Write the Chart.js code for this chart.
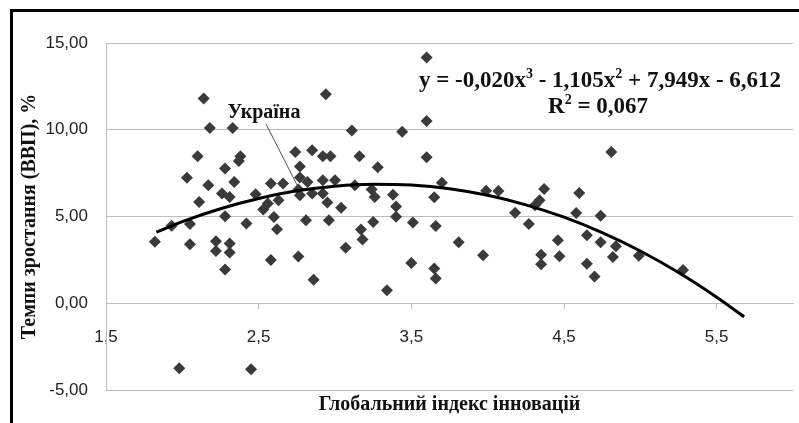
<!DOCTYPE html>
<html>
<head>
<meta charset="utf-8">
<script src="https://cdn.jsdelivr.net/npm/chart.js@4.4.1/dist/chart.umd.min.js"></script>
<style>
  html, body { margin: 0; padding: 0; background: #fff; }
  #wrap { position: relative; width: 799px; height: 423px; overflow: hidden; }
  #chart { position: absolute; left: 0; top: 0; }
  /* thick black frame, cut off at the right and bottom like the scan */
  #frame { position: absolute; left: 10px; top: 9px; width: 820px; height: 440px;
           border-left: 3px solid #000; border-top: 3px solid #000; pointer-events: none; }
</style>
</head>
<body>
<div id="wrap">
  <canvas id="chart" width="799" height="423"></canvas>
  <div id="frame"></div>
</div>
<script>
// Global innovation index (x) vs GDP growth rate, % (y), one point per country
const gii = [
  1.82, 1.93, 1.98, 2.03, 2.05, 2.05, 2.10, 2.11, 2.14, 2.17,
  2.18, 2.22, 2.22, 2.26, 2.28, 2.28, 2.28, 2.31, 2.31, 2.31,
  2.33, 2.34, 2.37, 2.38, 2.42, 2.45, 2.48, 2.53, 2.56, 2.58,
  2.58, 2.60, 2.62, 2.63, 2.66, 2.74, 2.76, 2.76, 2.77, 2.77,
  2.77, 2.81, 2.82, 2.85, 2.85, 2.86, 2.92, 2.92, 2.92, 2.94,
  2.95, 2.96, 2.97, 3.00, 3.04, 3.07, 3.11, 3.13, 3.16, 3.17,
  3.18, 3.24, 3.25, 3.26, 3.28, 3.34, 3.38, 3.40, 3.40, 3.44,
  3.50, 3.51, 3.60, 3.60, 3.60, 3.65, 3.66, 3.65, 3.66, 3.70,
  3.81, 3.97, 3.99, 4.07, 4.18, 4.27, 4.31, 4.34, 4.37, 4.35,
  4.35, 4.46, 4.47, 4.58, 4.60, 4.65, 4.65, 4.70, 4.74, 4.74,
  4.81, 4.84, 4.82, 4.99, 5.28
];
const gdpGrowth = [
  3.55, 4.46, -3.75, 7.24, 4.57, 3.40, 8.47, 5.84, 11.80, 6.80,
  10.10, 3.57, 3.01, 6.32, 7.76, 5.01, 1.94, 6.13, 3.44, 2.92,
  10.10, 6.99, 8.20, 8.47, 4.59, -3.80, 6.28, 5.40, 5.75, 6.90,
  2.50, 4.97, 4.27, 5.94, 6.90, 8.72, 2.69, 6.55, 7.88, 7.25,
  6.22, 4.78, 6.99, 8.82, 6.32, 1.35, 8.47, 7.09, 6.32, 12.05,
  5.81, 4.78, 8.47, 7.09, 5.51, 3.20, 9.95, 6.80, 8.47, 4.25,
  3.67, 6.56, 4.69, 6.13, 7.84, 0.75, 6.25, 5.57, 4.99, 9.89,
  2.32, 4.65, 14.16, 10.50, 8.42, 6.11, 4.45, 2.00, 1.42, 6.95,
  3.52, 2.77, 6.49, 6.47, 5.22, 4.57, 5.65, 5.94, 6.59, 2.80,
  2.25, 3.63, 2.71, 5.20, 6.36, 3.92, 2.27, 1.54, 5.05, 3.52,
  8.72, 3.29, 2.67, 2.74, 1.92
];
const ukraineIndex = 37; // point the "Україна" label points to

// cubic trend line
const trendX = [1.83, 2.00, 2.25, 2.50, 2.75, 3.00, 3.25, 3.50, 3.75, 4.00, 4.25, 4.50, 4.75, 5.00, 5.25, 5.50, 5.68];
const trendY = [4.10, 4.71, 5.45, 6.04, 6.48, 6.75, 6.86, 6.81, 6.60, 6.22, 5.67, 4.96, 4.07, 3.01, 1.77, 0.35, -0.78];

const xTicks = [1.5, 2.5, 3.5, 4.5, 5.5];
const yTicks = [-5, 0, 5, 10, 15];

const xTitle = "Глобальний індекс інновацій";
const yTitle = "Темпи зростання (ВВП), %";
const equation = [["y = -0,020x", false], ["3", true], [" - 1,105x", false], ["2", true], [" + 7,949x - 6,612", false]];
const rSquared = [["R", false], ["2", true], [" = 0,067", false]];
const ukraineLabel = "Україна";

const GRID = "#bdbdbd";
const SERIF = "'Liberation Serif', 'DejaVu Serif', serif";
const SANS = "'Liberation Sans', 'DejaVu Sans', sans-serif";
const comma = (v, d) => v.toFixed(d).replace(".", ",");

// Text with superscripts, centred on (cx, cy).
function drawRich(ctx, parts, cx, cy, size) {
  const main = `bold ${size}px ${SERIF}`;
  const sup = `bold ${Math.round(size * 0.6)}px ${SERIF}`;
  let total = 0;
  parts.forEach(([t, s]) => { ctx.font = s ? sup : main; total += ctx.measureText(t).width; });
  let x = cx - total / 2;
  ctx.textBaseline = "middle";
  ctx.textAlign = "left";
  parts.forEach(([t, s]) => {
    ctx.font = s ? sup : main;
    ctx.fillText(t, x, s ? cy - size * 0.3 : cy);
    x += ctx.measureText(t).width;
  });
}

const annotations = {
  id: "annotations",
  afterDraw(chart) {
    const { ctx, scales } = chart;
    ctx.save();
    ctx.fillStyle = "#111";
    drawRich(ctx, equation, 600, 81, 23);
    drawRich(ctx, rSquared, 598, 107, 23);

    ctx.font = `bold 20px ${SERIF}`;
    ctx.textAlign = "center";
    ctx.textBaseline = "middle";
    ctx.fillText(ukraineLabel, 264, 113);

    // leader line to the Ukraine point
    const px = scales.x.getPixelForValue(gii[ukraineIndex]);
    const py = scales.y.getPixelForValue(gdpGrowth[ukraineIndex]);
    ctx.strokeStyle = "#555";
    ctx.lineWidth = 1;
    ctx.beginPath();
    ctx.moveTo(266, 124);
    ctx.lineTo(px, py - 2);
    ctx.stroke();
    ctx.restore();
  }
};

new Chart(document.getElementById("chart"), {
  type: "scatter",
  data: {
    datasets: [
      {
        type: "line",
        data: trendX.map((x, i) => ({ x, y: trendY[i] })),
        borderColor: "#000",
        borderWidth: 3,
        pointRadius: 0,
        cubicInterpolationMode: "monotone",
        fill: false,
        order: 0
      },
      {
        data: gii.map((x, i) => ({ x, y: gdpGrowth[i] })),
        pointStyle: "rectRot",
        pointRadius: 6,
        backgroundColor: "#3a3a3a",
        borderColor: "#3a3a3a",
        borderWidth: 0,
        order: 1
      }
    ]
  },
  options: {
    responsive: false,
    animation: false,
    layout: { padding: { left: 14, top: 43, right: 5, bottom: 0 } },
    plugins: {
      legend: { display: false },
      tooltip: { enabled: false },
      title: {
        display: true,
        position: "bottom",
        fullSize: false,
        text: xTitle,
        color: "#111",
        font: { family: SERIF, size: 20, weight: "bold" },
        padding: { top: 3, bottom: 6 }
      }
    },
    scales: {
      x: {
        type: "linear",
        position: { y: 0 },
        min: 1.5,
        max: 6.0,
        afterBuildTicks: (scale) => { scale.ticks = xTicks.map((value) => ({ value })); },
        ticks: {
          callback: (v) => comma(v, 1),
          color: "#222",
          font: { family: SANS, size: 17 },
          padding: 19,
          maxRotation: 0,
          autoSkip: false
        },
        grid: { drawOnChartArea: false, drawTicks: true, tickLength: 5, color: GRID },
        border: { display: true, color: GRID }
      },
      y: {
        min: -5,
        max: 15,
        afterBuildTicks: (scale) => { scale.ticks = yTicks.map((value) => ({ value })); },
        afterFit: (scale) => { scale.width = 92; },
        ticks: {
          callback: (v) => comma(v, 2),
          color: "#222",
          font: { family: SANS, size: 17 },
          padding: 18
        },
        grid: { color: GRID, drawTicks: false },
        border: { display: true, color: GRID },
        title: {
          display: true,
          text: yTitle,
          color: "#111",
          font: { family: SERIF, size: 20, weight: "bold" },
          padding: { top: 4, bottom: 0 }
        }
      }
    }
  },
  plugins: [annotations]
});
</script>
</body>
</html>
